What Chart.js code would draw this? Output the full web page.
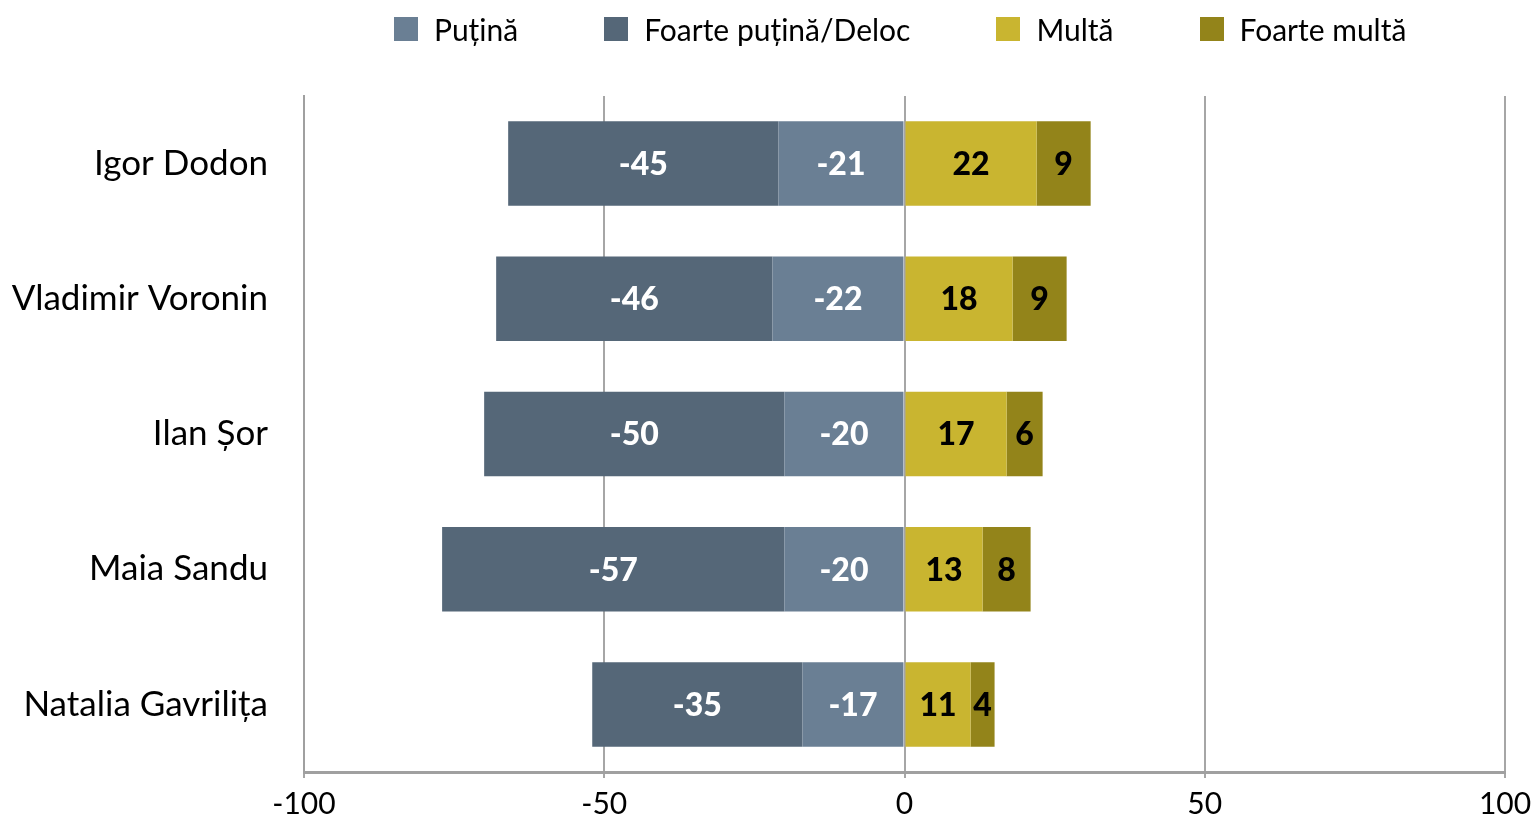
<!DOCTYPE html>
<html>
<head>
<meta charset="utf-8">
<script src="https://cdn.jsdelivr.net/npm/chart.js@4"></script>
<style>
  html, body { margin: 0; padding: 0; background: #fff; }
  #wrap { position: relative; width: 1536px; height: 819px; }
  #legend { position: absolute; top: 11px; left: 394px; display: flex; gap: 86px; align-items: center;
            font-family: Lato, sans-serif; font-size: 30px; color: #000; }
  #legend .item { display: flex; align-items: center; }
  #legend .box { width: 24px; height: 24px; margin-right: 16px; }
</style>
</head>
<body>
<div id="wrap">
  <canvas id="c" width="1536" height="819"></canvas>
  <div id="legend"></div>
</div>
<script>
const categories = ["Igor Dodon", "Vladimir Voronin", "Ilan Șor", "Maia Sandu", "Natalia Gavrilița"];
const seriesNames = ["Puțină", "Foarte puțină/Deloc", "Multă", "Foarte multă"];
const putina = [-21, -22, -20, -20, -17];
const foartePutina = [-45, -46, -50, -57, -35];
const multa = [22, 18, 17, 13, 11];
const foarteMulta = [9, 9, 6, 8, 4];
const xTicks = [-100, -50, 0, 50, 100];
const colors = ["#6a7f94", "#556778", "#c9b530", "#93841a"];

const FONT = "Lato";
const seriesValues = [putina, foartePutina, multa, foarteMulta];

const datasets = seriesNames.map((name, i) => ({
  label: name,
  data: seriesValues[i],
  backgroundColor: colors[i],
  borderWidth: 0,
  barPercentage: 0.625,
  categoryPercentage: 1.0
}));

const labelPlugin = {
  id: 'barLabels',
  afterDatasetsDraw(chart) {
    const ctx = chart.ctx;
    ctx.save();
    ctx.font = "900 32px " + FONT;
    ctx.textAlign = "center";
    ctx.textBaseline = "middle";
    chart.data.datasets.forEach((ds, di) => {
      const meta = chart.getDatasetMeta(di);
      meta.data.forEach((bar, j) => {
        const v = ds.data[j];
        const cx = (bar.x + bar.base) / 2;
        ctx.fillStyle = v < 0 ? "#ffffff" : "#000000";
        ctx.fillText(String(v), cx, bar.y + 1);
      });
    });
    ctx.restore();
  }
};

const chart = new Chart(document.getElementById('c'), {
  type: 'bar',
  data: { labels: categories, datasets },
  options: {
    indexAxis: 'y',
    responsive: false,
    animation: false,
    devicePixelRatio: 1,
    layout: { padding: { top: 96, right: 31, left: 0, bottom: 0 } },
    plugins: { legend: { display: false }, tooltip: { enabled: false } },
    scales: {
      x: {
        stacked: true,
        min: -100, max: 100,
        afterBuildTicks(scale) { scale.ticks = xTicks.map(v => ({ value: v })); },
        afterFit(scale) { scale.height = 47; scale.paddingLeft = 0; scale.paddingRight = 0; },
        grid: { color: "#a6a6a6", lineWidth: 2, tickLength: 6, drawTicks: true },
        border: { display: true, color: "#a0a0a0", width: 3 },
        ticks: { color: "#000", padding: 8, font: { family: FONT, size: 30 } }
      },
      y: {
        stacked: true,
        afterFit(scale) { scale.width = 304; scale.paddingTop = 0; scale.paddingBottom = 0; },
        grid: { display: false, drawTicks: false },
        border: { display: true, color: "#a0a0a0", width: 2 },
        ticks: { color: "#000", padding: 36, font: { family: FONT, size: 35 } }
      }
    }
  },
  plugins: [labelPlugin]
});

const legend = document.getElementById('legend');
seriesNames.forEach((name, i) => {
  const item = document.createElement('div');
  item.className = 'item';
  const box = document.createElement('span');
  box.className = 'box';
  box.style.background = colors[i];
  const txt = document.createElement('span');
  txt.textContent = name;
  item.appendChild(box);
  item.appendChild(txt);
  legend.appendChild(item);
});
</script>
</body>
</html>
